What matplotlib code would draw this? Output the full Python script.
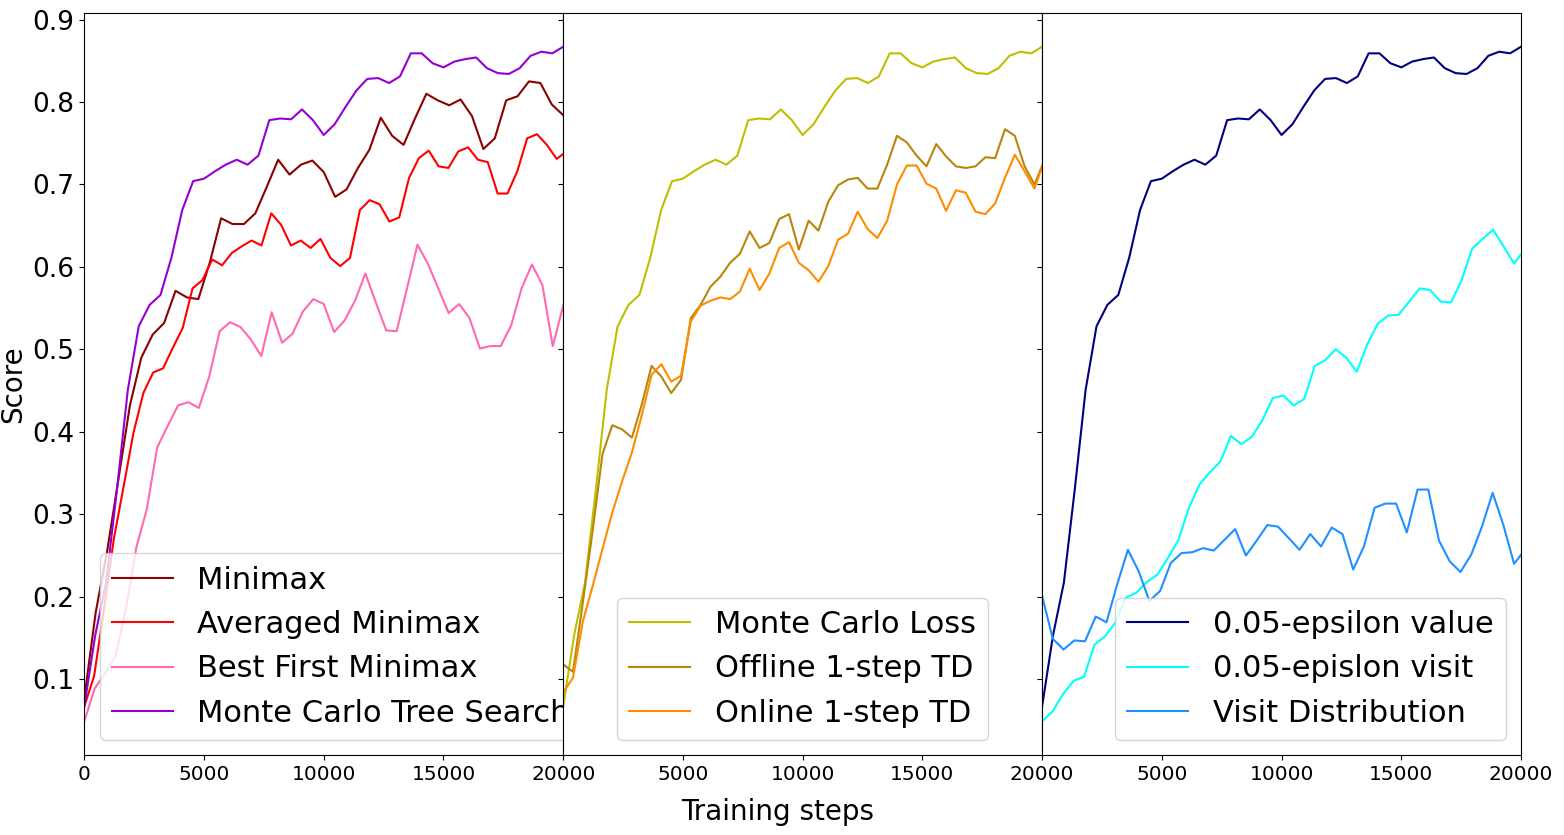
import numpy as np
import matplotlib
matplotlib.use('Agg')
import matplotlib.pyplot as plt

# evaluation scores
mcts = [0.067, 0.153, 0.217, 0.330, 0.451, 0.528, 0.554, 0.566, 0.611, 0.669,
        0.704, 0.707, 0.716, 0.724, 0.730, 0.724, 0.735, 0.778, 0.780, 0.779,
        0.791, 0.778, 0.760, 0.773, 0.794, 0.814, 0.828, 0.829, 0.823, 0.831,
        0.859, 0.859, 0.847, 0.842, 0.849, 0.852, 0.854, 0.841, 0.835, 0.834,
        0.841, 0.856, 0.861, 0.859, 0.867]
minimax = [0.077, 0.181, 0.255, 0.343, 0.432, 0.490, 0.518, 0.532, 0.571, 0.563,
           0.561, 0.605, 0.659, 0.652, 0.652, 0.665, 0.697, 0.730, 0.712, 0.724,
           0.729, 0.715, 0.685, 0.694, 0.720, 0.742, 0.781, 0.759, 0.748, 0.780,
           0.810, 0.802, 0.796, 0.803, 0.783, 0.743, 0.756, 0.802, 0.807, 0.825,
           0.823, 0.797, 0.784]
averaged = [0.067, 0.104, 0.185, 0.270, 0.334, 0.399, 0.447, 0.472, 0.477, 0.502,
            0.526, 0.574, 0.584, 0.609, 0.602, 0.617, 0.625, 0.632, 0.626, 0.665,
            0.651, 0.626, 0.632, 0.623, 0.634, 0.611, 0.601, 0.611, 0.669, 0.681,
            0.676, 0.655, 0.660, 0.708, 0.732, 0.741, 0.722, 0.720, 0.740, 0.745,
            0.730, 0.727, 0.689, 0.689, 0.716, 0.756, 0.761, 0.748, 0.731, 0.740]
best_first = [0.049, 0.089, 0.107, 0.128, 0.185, 0.260, 0.306, 0.381, 0.407, 0.432,
              0.436, 0.429, 0.467, 0.522, 0.533, 0.527, 0.512, 0.492, 0.545, 0.508,
              0.519, 0.546, 0.561, 0.555, 0.521, 0.535, 0.559, 0.592, 0.557, 0.523,
              0.522, 0.574, 0.627, 0.604, 0.574, 0.544, 0.555, 0.538, 0.501, 0.504,
              0.504, 0.529, 0.574, 0.603, 0.578, 0.504, 0.553]
offline_td = [0.118, 0.109, 0.193, 0.280, 0.373, 0.408, 0.403, 0.393, 0.433, 0.480,
              0.467, 0.447, 0.463, 0.538, 0.554, 0.576, 0.588, 0.605, 0.616, 0.643,
              0.623, 0.629, 0.658, 0.664, 0.621, 0.656, 0.644, 0.679, 0.699, 0.706,
              0.708, 0.695, 0.695, 0.724, 0.759, 0.751, 0.735, 0.722, 0.749, 0.734,
              0.722, 0.720, 0.722, 0.733, 0.732, 0.767, 0.759, 0.722, 0.700, 0.729]
online_td = [0.084, 0.102, 0.170, 0.213, 0.258, 0.302, 0.340, 0.375, 0.420, 0.469,
             0.482, 0.461, 0.468, 0.534, 0.553, 0.559, 0.563, 0.561, 0.570, 0.598,
             0.572, 0.592, 0.623, 0.630, 0.605, 0.596, 0.582, 0.601, 0.633, 0.640,
             0.667, 0.646, 0.635, 0.656, 0.700, 0.723, 0.723, 0.701, 0.695, 0.668,
             0.693, 0.690, 0.667, 0.664, 0.677, 0.708, 0.736, 0.716, 0.695, 0.729]
eps_visit = [0.049, 0.061, 0.082, 0.098, 0.103, 0.142, 0.152, 0.169, 0.199, 0.205,
             0.218, 0.227, 0.247, 0.269, 0.308, 0.336, 0.351, 0.364, 0.395, 0.385,
             0.394, 0.414, 0.441, 0.444, 0.432, 0.440, 0.480, 0.487, 0.500, 0.490,
             0.473, 0.506, 0.531, 0.541, 0.542, 0.558, 0.574, 0.572, 0.558, 0.557,
             0.584, 0.622, 0.634, 0.645, 0.625, 0.604, 0.621]
visit_dist = [0.201, 0.149, 0.136, 0.147, 0.146, 0.176, 0.169, 0.215, 0.257, 0.231,
              0.195, 0.207, 0.241, 0.253, 0.254, 0.259, 0.256, 0.269, 0.282, 0.250,
              0.268, 0.287, 0.285, 0.271, 0.257, 0.276, 0.261, 0.284, 0.276, 0.233,
              0.261, 0.308, 0.313, 0.313, 0.278, 0.330, 0.330, 0.268, 0.243, 0.230,
              0.251, 0.285, 0.326, 0.287, 0.240, 0.257]

# training steps between two evaluations of each run
eval_every = {'mcts': 20000 / 44, 'minimax': 20000 / 42, 'averaged': 411,
              'best_first': 20000 / 46, 'td': 410, 'eps_visit': 438,
              'visit_dist': 448}


def steps(values, every):
    return np.arange(len(values)) * every


panels = [
    [('Minimax', minimax, 'minimax', 'darkred'),
     ('Averaged Minimax', averaged, 'averaged', 'red'),
     ('Best First Minimax', best_first, 'best_first', 'hotpink'),
     ('Monte Carlo Tree Search', mcts, 'mcts', 'darkviolet')],
    [('Monte Carlo Loss', mcts, 'mcts', 'y'),
     ('Offline 1-step TD', offline_td, 'td', 'darkgoldenrod'),
     ('Online 1-step TD', online_td, 'td', 'darkorange')],
    [('0.05-epsilon value', mcts, 'mcts', 'navy'),
     ('0.05-epislon visit', eps_visit, 'eps_visit', 'cyan'),
     ('Visit Distribution', visit_dist, 'visit_dist', 'dodgerblue')],
]
legend_locs = ['lower left', 'lower center', 'lower right']

fig, axes = plt.subplots(1, 3, sharey=True, figsize=(15.64, 8.35), dpi=100)
fig.subplots_adjust(left=0.0539, right=0.9725, top=0.9844, bottom=0.0958, wspace=0)

for i, ax in enumerate(axes):
    for label, vals, run, color in panels[i]:
        ax.plot(steps(vals, eval_every[run]), vals, color=color, label=label)
    ax.set_xlim(0, 20000)
    if i == 0:
        ax.set_xticks([0, 5000, 10000, 15000, 20000])
    else:
        ax.set_xticks([5000, 10000, 15000, 20000])
    ax.tick_params(axis='x', labelsize=14.5)
    ax.tick_params(axis='y', labelsize=19)
    ax.legend(loc=legend_locs[i], fontsize=22)

axes[0].set_yticks([0.1, 0.2, 0.3, 0.4, 0.5, 0.6, 0.7, 0.8, 0.9])
axes[0].set_ylabel('Score', fontsize=20)
fig.text(0.4974, 0.0275, 'Training steps', ha='center', va='center', fontsize=20)

fig.savefig('out.png', dpi=100)
